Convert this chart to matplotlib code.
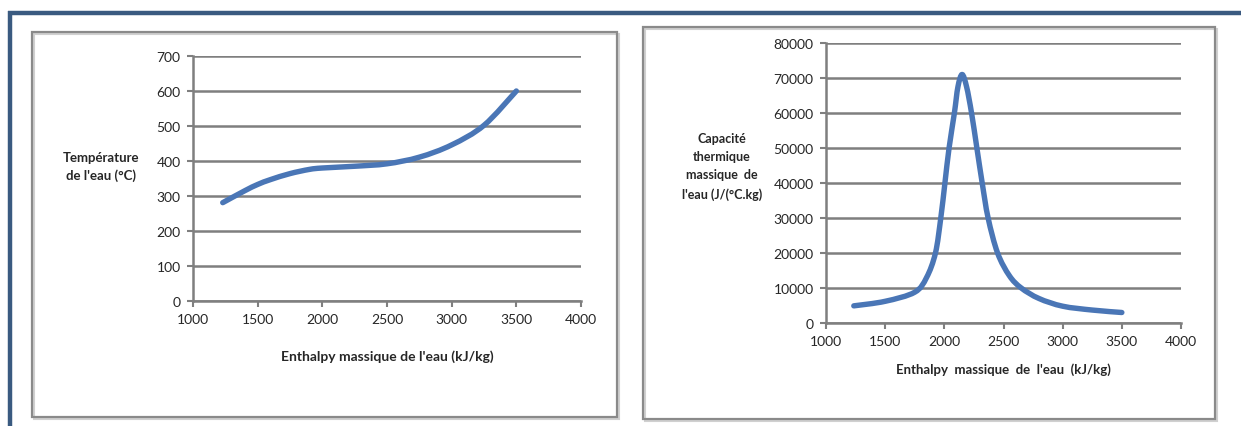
import matplotlib
matplotlib.use("Agg")
import matplotlib.pyplot as plt
from matplotlib.patches import Rectangle, PathPatch
from matplotlib.path import Path
from matplotlib.lines import Line2D

plt.rcParams['font.family'] = ['Lato', 'DejaVu Sans']

# Temperature of water vs. specific enthalpy
enthalpy_t = [1230, 1400, 1500, 1600, 1750, 1900, 2000, 2250, 2500, 2750, 3000, 3250, 3500]
temperature = [281, 315, 333, 347, 364, 376, 380, 385, 392, 411, 446, 502, 600]

# Specific heat capacity of water vs. specific enthalpy
enthalpy_c = [1235, 1500, 1750, 1850, 1925, 1970, 2005, 2040, 2085, 2115, 2150,
              2188, 2230, 2275, 2320, 2370, 2450, 2550, 2650, 2800, 3000, 3250, 3500]
capacity = [4900, 6200, 8800, 13000, 20000, 30000, 40000, 50000, 60000, 67500, 71000,
            67500, 60000, 50000, 40000, 30000, 20000, 13500, 10000, 7000, 4800, 3700, 3000]

x_ticks = [1000, 1500, 2000, 2500, 3000, 3500, 4000]
t_ticks = [0, 100, 200, 300, 400, 500, 600, 700]
c_ticks = [0, 10000, 20000, 30000, 40000, 50000, 60000, 70000, 80000]

x_title = "Enthalpy massique de l'eau (kJ/kg)"
t_title = "Température\nde l'eau (°C)"
c_title = "Capacité\nthermique\nmassique  de\nl'eau (J/(°C.kg)"

W, H = 1241, 427
fig = plt.figure(figsize=(W / 100, H / 100), dpi=100)
fig.patch.set_facecolor('white')

LINE = '#4a76b6'
GRID = '#7f7f7f'
TEXT = '#262626'
FRAME = '#3a5a80'


def fx(px):
    return px / W


def fy(py):
    return 1 - py / H


# outer dark-blue frame (top and left edges)
fig.add_artist(Line2D([fx(8), 1.0], [fy(13.5), fy(13.5)], color=FRAME, lw=3.2,
                      transform=fig.transFigure, solid_capstyle='butt'))
fig.add_artist(Line2D([fx(10), fx(10)], [fy(12), 0.0], color=FRAME, lw=3.2,
                      transform=fig.transFigure, solid_capstyle='butt'))

# chart-area borders
for (l, t, r, b) in [(32, 33, 617, 418), (643, 28, 1215, 420)]:
    fig.add_artist(Rectangle((fx(l) + 0.0015, fy(b) - 0.004), fx(r - l), fy(t) - fy(b),
                             transform=fig.transFigure, fill=False,
                             edgecolor='#d0d0d0', lw=1.5))
    fig.add_artist(Rectangle((fx(l), fy(b)), fx(r - l), fy(t) - fy(b),
                             transform=fig.transFigure, fill=False,
                             edgecolor='#8a8a8a', lw=1.6))


def style_axes(ax, yticks, ymax):
    ax.set_xlim(1000, 4000)
    ax.set_ylim(0, ymax)
    ax.set_xticks(x_ticks)
    ax.set_yticks(yticks)
    ax.grid(axis='y', color=GRID, lw=1.8)
    ax.set_axisbelow(True)
    for s in ['top', 'right']:
        ax.spines[s].set_visible(False)
    for s in ['left', 'bottom']:
        ax.spines[s].set_color(GRID)
        ax.spines[s].set_linewidth(1.8)
    ax.tick_params(direction='out', length=4, width=1.5, color=GRID,
                   labelcolor=TEXT, labelsize=10, pad=5)
    ax.patch.set_alpha(0)


def smooth_line(ax, xs, ys, **kw):
    """Draw a smoothed line (Catmull-Rom through each point, as cubic Beziers)."""
    pts = list(zip(xs, ys))
    verts = [pts[0]]
    codes = [Path.MOVETO]
    n = len(pts)
    for i in range(n - 1):
        p0 = pts[i - 1] if i > 0 else pts[i]
        p1 = pts[i]
        p2 = pts[i + 1]
        p3 = pts[i + 2] if i + 2 < n else pts[i + 1]
        c1 = (p1[0] + (p2[0] - p0[0]) / 6, p1[1] + (p2[1] - p0[1]) / 6)
        c2 = (p2[0] - (p3[0] - p1[0]) / 6, p2[1] - (p3[1] - p1[1]) / 6)
        verts += [c1, c2, p2]
        codes += [Path.CURVE4] * 3
    patch = PathPatch(Path(verts, codes), fill=False, capstyle='round',
                      joinstyle='round', **kw)
    ax.add_patch(patch)


# left chart
ax1 = fig.add_axes([fx(193), fy(302), fx(581 - 193), fy(57) - fy(302)])
style_axes(ax1, t_ticks, 700)
smooth_line(ax1, enthalpy_t, temperature, edgecolor=LINE, lw=3.9)
ax1.set_xlabel(x_title, fontsize=10, fontweight='bold', color=TEXT, labelpad=17)
fig.text(fx(101), fy(167), t_title, ha='center', va='center', fontsize=9.5,
         fontweight='bold', color=TEXT, linespacing=1.45)

# right chart
ax2 = fig.add_axes([fx(826), fy(324), fx(1181 - 826), fy(44) - fy(324)])
style_axes(ax2, c_ticks, 80000)
smooth_line(ax2, enthalpy_c, capacity, edgecolor=LINE, lw=3.9)
ax2.set_xlabel(x_title.replace(' ', '  '), fontsize=9.5, fontweight='bold',
               color=TEXT, labelpad=11)
fig.text(fx(722), fy(167), c_title, ha='center', va='center', fontsize=9,
         fontweight='bold', color=TEXT, linespacing=1.6)

fig.savefig('out.png', dpi=100)
